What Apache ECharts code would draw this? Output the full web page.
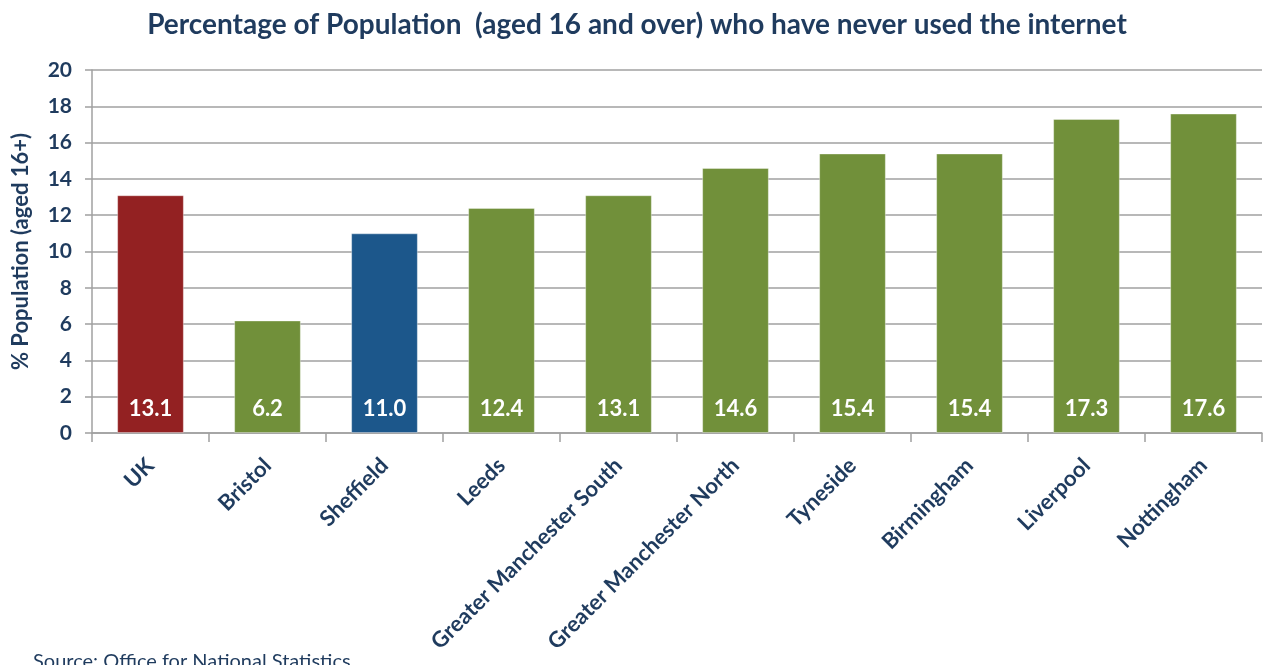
<!DOCTYPE html>
<html><head><meta charset="utf-8">
<script src="https://cdn.jsdelivr.net/npm/echarts@6/dist/echarts.min.js"></script>
<style>html,body{margin:0;padding:0;background:#fff}#c{width:1266px;height:665px}</style>
</head><body><div id="c"></div>
<script>
const categories = ['UK','Bristol','Sheffield','Leeds','Greater Manchester South','Greater Manchester North','Tyneside','Birmingham','Liverpool','Nottingham'];
const values = [13.1, 6.2, 11.0, 12.4, 13.1, 14.6, 15.4, 15.4, 17.3, 17.6];
const barColors = ['#932122','#71903A','#1C578B','#71903A','#71903A','#71903A','#71903A','#71903A','#71903A','#71903A'];
const yTicks = [0,2,4,6,8,10,12,14,16,18,20];
const navy = '#1F3B5E';
const font = 'Lato, "Open Sans", sans-serif';
const chart = echarts.init(document.getElementById('c'), null, {renderer:'canvas'});
chart.setOption({
  animation:false,
  title:{text:'Percentage of Population  (aged 16 and over) who have never used the internet', left:632, textAlign:'center', top:6,
    textStyle:{fontFamily:font, fontSize:28, fontWeight:'bold', color:navy}},
  graphic:[{type:'text', left:33, top:652, style:{text:'Source: Office for National Statistics', font:'20px '+font, fill:navy}}],
  grid:{left:92, right:4, top:70, bottom:232, containLabel:false},
  xAxis:{type:'category', data:categories,
    axisLine:{lineStyle:{color:'#a0a0a0', width:1.5}},
    axisTick:{show:true, length:9, lineStyle:{color:'#a0a0a0', width:1.5}},
    axisLabel:{rotate:45, fontFamily:font, fontSize:22, fontWeight:'bold', color:navy, margin:29, interval:0}},
  yAxis:{type:'value', min:0, max:20, interval:2,
    name:'% Population (aged 16+)', nameLocation:'middle', nameGap:60, nameRotate:90,
    nameTextStyle:{fontFamily:font, fontSize:22, fontWeight:'bold', color:navy},
    axisLine:{show:true, lineStyle:{color:'#a0a0a0', width:1.5}},
    axisTick:{show:true, length:7, lineStyle:{color:'#a0a0a0', width:1.5}},
    splitLine:{lineStyle:{color:'#a0a0a0', width:1.5}},
    axisLabel:{fontFamily:font, fontSize:21, fontWeight:'bold', color:navy, margin:20,
      formatter:v=>yTicks.includes(v)?String(v):''}},
  series:[{type:'bar', data:values.map((v,i)=>({value:v, itemStyle:{color:barColors[i]}})),
    barCategoryGap:'43%',
    itemStyle:{borderColor:'rgba(255,255,255,0.35)', borderWidth:1},
    label:{show:true, position:'insideBottom', distance:13, formatter:p=>p.value.toFixed(1),
      fontFamily:font, fontSize:22, fontWeight:'bold', color:'#fff'}}]
});
</script></body></html>
